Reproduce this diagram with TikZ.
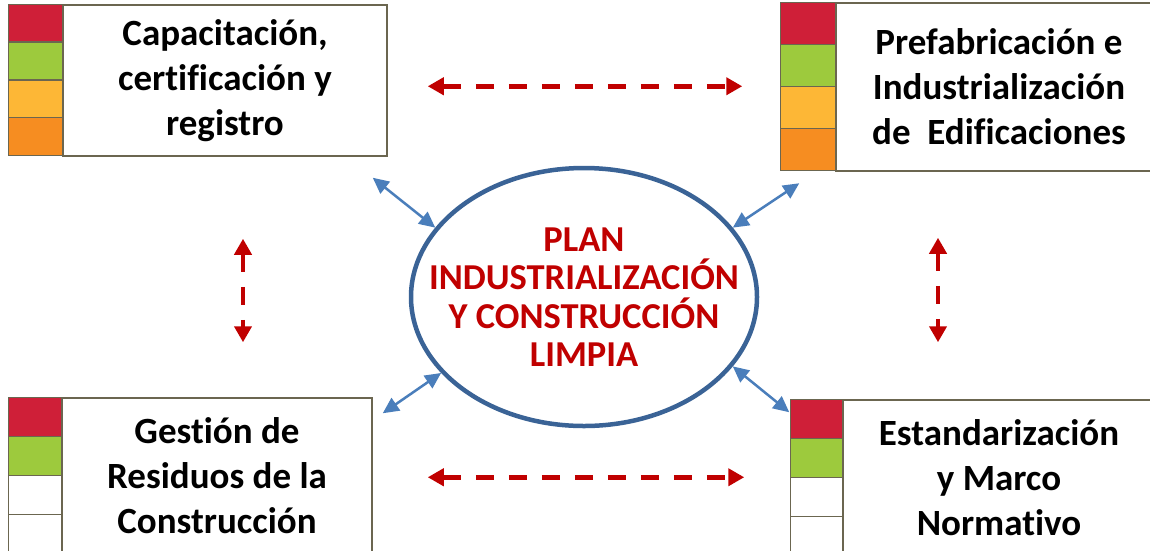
\documentclass[tikz,border=0pt]{standalone}
\usepackage{fontspec}
\setmainfont{Carlito}[Ligatures=NoCommon]
\usetikzlibrary{positioning, shapes.geometric, arrows.meta}
\definecolor{stripred}{HTML}{CF1F38}
\definecolor{stripgreen}{HTML}{9DCA3D}
\definecolor{stripyellow}{HTML}{FDB736}
\definecolor{striporange}{HTML}{F68D21}
\definecolor{boxline}{HTML}{6B6650}
\definecolor{planblue}{HTML}{3A6396}
\definecolor{planred}{HTML}{C00000}
\definecolor{arrblue}{HTML}{4A7EBB}

\begin{document}
\begin{tikzpicture}[x=1pt, y=-1pt,
    box/.style={draw=boxline, line width=1.5pt, inner sep=0pt, align=center,
        font=\bfseries\fontsize{37pt}{45pt}\selectfont},
    strip/.style 2 args={draw=boxline, line width=1.5pt, inner sep=0pt, outer sep=0pt,
        minimum width=#1, minimum height=#2},
    plan/.style={ellipse, draw=planblue, line width=4.5pt, inner sep=0pt,
        minimum width=346pt, minimum height=258pt},
    plantext/.style={text=planred, align=center,
        font=\bfseries\fontsize{36.5pt}{38.5pt}\selectfont},
    dasharr/.style={draw=planred, line width=4.5pt, dash pattern=on 18pt off 15pt,
        {Triangle[length=16pt,width=17pt]}-{Triangle[length=16pt,width=17pt]}},
    bluearr/.style={draw=arrblue, line width=2.5pt,
        {Triangle[length=16pt,width=15pt]}-{Triangle[length=16pt,width=15pt]}}]
    \useasboundingbox (0,0) rectangle (1150,550);

    \node[plan] (plan) at (584,297) {};
    \node[plantext] (plantxt) at (plan) {PLAN\\INDUSTRIALIZACIÓN\\Y CONSTRUCCIÓN\\LIMPIA};

    \node[box, minimum width=324pt, minimum height=151pt] (capac) at (225,80.5)
        {Capacitación,\\certificación y\\registro};
    \node[box, minimum width=326pt, minimum height=168pt] (prefab) at (999,87)
        {Prefabricación e\\Industrialización\\de~~Edificaciones};
    \node[box, minimum width=310pt, minimum height=156pt] (gestion) at (217,476)
        {Gestión de\\Residuos de la\\Construcción};
    \node[box, minimum width=312pt, minimum height=156pt] (estand) at (999,478)
        {Estandarización\\y Marco\\Normativo};

    \path
    node[strip={54pt}{37.75pt}, fill=stripred, anchor=north east] (capac1) at (capac.north west) {}
    node[strip={54pt}{37.75pt}, fill=stripgreen, below=0pt of capac1] (capac2) {}
    node[strip={54pt}{37.75pt}, fill=stripyellow, below=0pt of capac2] (capac3) {}
    node[strip={54pt}{37.75pt}, fill=striporange, below=0pt of capac3] (capac4) {};

    \path
    node[strip={55pt}{42pt}, fill=stripred, anchor=north east] (prefab1) at (prefab.north west) {}
    node[strip={55pt}{42pt}, fill=stripgreen, below=0pt of prefab1] (prefab2) {}
    node[strip={55pt}{42pt}, fill=stripyellow, below=0pt of prefab2] (prefab3) {}
    node[strip={55pt}{42pt}, fill=striporange, below=0pt of prefab3] (prefab4) {};

    \path
    node[strip={53pt}{39pt}, fill=stripred, anchor=north east] (gestion1) at (gestion.north west) {}
    node[strip={53pt}{39pt}, fill=stripgreen, below=0pt of gestion1] (gestion2) {}
    node[strip={53pt}{39pt}, fill=white, below=0pt of gestion2] (gestion3) {}
    node[strip={53pt}{39pt}, fill=white, below=0pt of gestion3] (gestion4) {};

    \path
    node[strip={52pt}{39pt}, fill=stripred, anchor=north east] (estand1) at (estand.north west) {}
    node[strip={52pt}{39pt}, fill=stripgreen, below=0pt of estand1] (estand2) {}
    node[strip={52pt}{39pt}, fill=white, below=0pt of estand2] (estand3) {}
    node[strip={52pt}{39pt}, fill=white, below=0pt of estand3] (estand4) {};

    \path
    (capac.east |- prefab2.south west) edge[dasharr, shorten <=40pt, shorten >=38pt] (prefab2.south west)
    (gestion.east |- estand2.south west) edge[dasharr, shorten <=55pt, shorten >=46pt] (estand2.south west)
    ([xshift=18pt]capac.south) edge[dasharr, shorten <=82pt, shorten >=55pt] ([xshift=18pt]capac.south |- gestion.north)
    ([xshift=-61pt]prefab.south) edge[dasharr, shorten <=66pt, shorten >=57pt] ([xshift=-61pt]prefab.south |- estand.north);

    \coordinate (capacarr) at ([shift={(-15,21)}]capac.south east);
    \coordinate (prefabarr) at ([shift={(19,13)}]prefab4.south west);
    \coordinate (gestionarr) at ([shift={(10,16)}]gestion.north east);
    \coordinate (estandarr) at ([shift={(-1,13)}]estand1.north west);

    \path
    (capacarr) edge[bluearr] (plan.155)
    (prefabarr) edge[bluearr] (plan.25)
    (gestionarr) edge[bluearr] (plan.208)
    (estandarr) edge[bluearr] (plan.-25);
\end{tikzpicture}
\end{document}
